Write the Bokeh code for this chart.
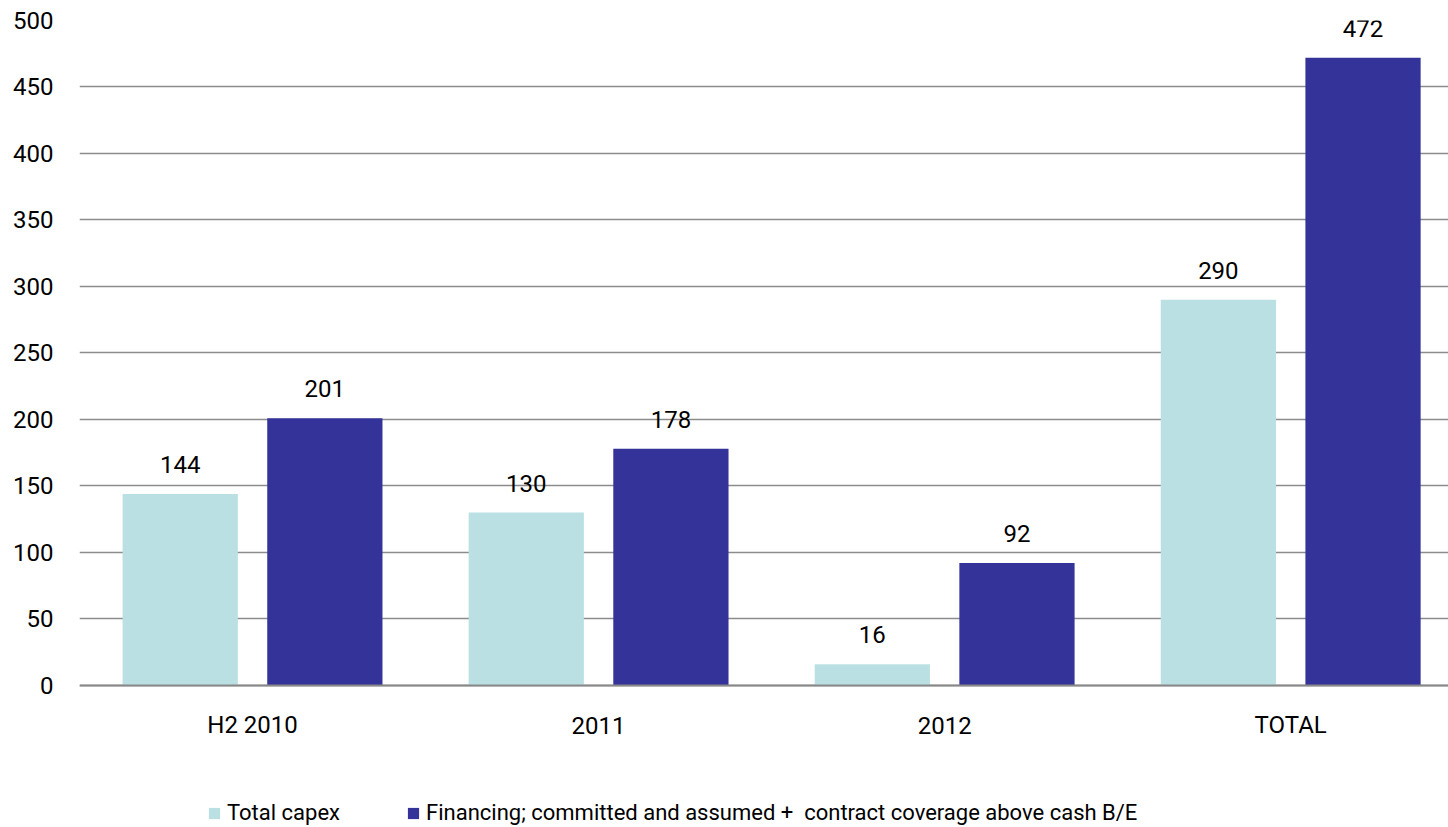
from bokeh.plotting import figure
from bokeh.models import ColumnDataSource, Range1d, Legend, LegendItem, LabelSet, Span
from bokeh.core.properties import value
from bokeh.transform import dodge
from bokeh.embed import file_html
from bokeh.resources import INLINE

categories = ["H2 2010", "2011", "2012", "TOTAL"]
total_capex = [144, 130, 16, 290]
financing = [201, 178, 92, 472]
series_names = ["Total capex", "Financing; committed and assumed +  contract coverage above cash B/E"]
y_ticks = [0, 50, 100, 150, 200, 250, 300, 350, 400, 450, 500]

FONT = "Roboto"
FS = "24px"
C_LIGHT = "#BAE0E3"
C_DARK = "#333399"

pos = [i + 0.5 for i in range(len(categories))]
src = ColumnDataSource(dict(x=pos, cat=categories, capex=total_capex, fin=financing,
                            capex_lbl=[str(v) for v in total_capex],
                            fin_lbl=[str(v) for v in financing]))

# frame extends to the bottom of the page so the legend can sit inside it;
# the last category slot runs slightly past the right edge, as in the original
p = figure(x_range=Range1d(0, 3.956), y_range=(-106.8, 500),
           width=1448, height=827, output_backend="svg", toolbar_location=None,
           min_border_left=79, min_border_right=0, min_border_top=20, min_border_bottom=0)
p.outline_line_color = None
p.background_fill_color = "white"

off = 0.209
w = 0.333
r1 = p.vbar(x=dodge("x", -off), top="capex", width=w, source=src,
            fill_color=C_LIGHT, line_color=None)
r2 = p.vbar(x=dodge("x", off), top="fin", width=w, source=src,
            fill_color=C_DARK, line_color=None)

for col, lbl, d in (("capex", "capex_lbl", -off), ("fin", "fin_lbl", off)):
    ls = LabelSet(x=dodge("x", d), y=col, text=lbl, source=src,
                  text_align="center", text_baseline="bottom", y_offset=21,
                  text_font=value(FONT), text_font_size=value(FS), text_color="#000000")
    p.add_layout(ls)

# category labels below the baseline
p.text(x="x", y=0, text="cat", source=src, y_offset=40,
       text_align="center", text_baseline="middle",
       text_font=value(FONT), text_font_size=value(FS), text_color="#000000")

p.add_layout(Span(location=0, dimension="width", line_color="#888888", line_width=2))

p.yaxis.ticker = y_ticks
p.yaxis.axis_line_color = None
p.yaxis.major_tick_line_color = None
p.yaxis.minor_tick_line_color = None
p.yaxis.major_label_text_font = FONT
p.yaxis.major_label_text_font_size = FS
p.yaxis.major_label_text_color = "#000000"
p.yaxis.major_label_standoff = 20

p.xaxis.visible = False
p.xgrid.grid_line_color = None
p.ygrid.ticker = y_ticks
p.ygrid.grid_line_color = "#8c8c8c"
p.ygrid.grid_line_width = 1.5

legend = Legend(items=[LegendItem(label=series_names[0], renderers=[r1]),
                       LegendItem(label=series_names[1], renderers=[r2])],
                orientation="horizontal", location=(128, 2),
                label_text_font=FONT, label_text_font_size="22px",
                label_text_color="#000000", glyph_width=14, glyph_height=14,
                label_standoff=6, spacing=66, padding=0, margin=0,
                border_line_color=None, background_fill_alpha=0)
p.add_layout(legend, "center")

open("out.html", "w").write(file_html(p, INLINE))
